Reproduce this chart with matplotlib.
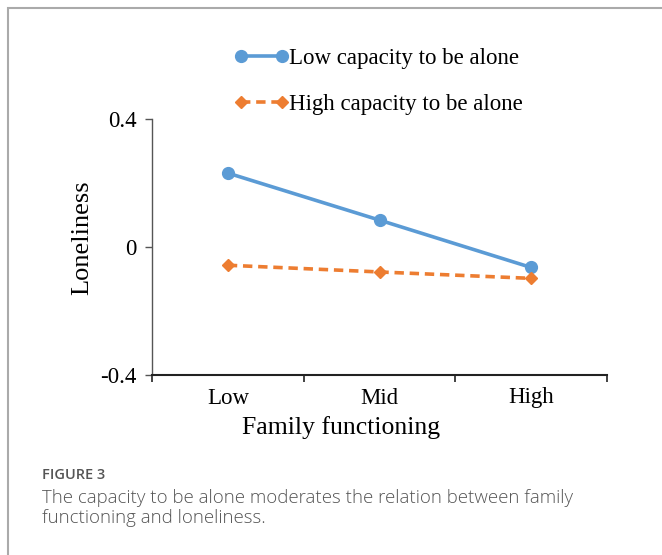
import matplotlib
matplotlib.use("Agg")
import matplotlib.pyplot as plt
from matplotlib.patches import Rectangle
from matplotlib.legend_handler import HandlerLine2D

categories = ["Low", "Mid", "High"]
low_capacity = [0.231, 0.084, -0.064]
high_capacity = [-0.057, -0.078, -0.098]
series_names = ["Low capacity to be alone", "High capacity to be alone"]
y_ticks = [-0.4, 0, 0.4]
y_tick_labels = ["-0.4", "0", "0.4"]

W, H = 662, 555
fig = plt.figure(figsize=(W / 100, H / 100), dpi=100)
serif = "Liberation Serif"

# outer frame
fig.patches.append(Rectangle((8 / W, -0.1), 1.2, (H - 8) / H + 0.1, transform=fig.transFigure,
                             fill=False, edgecolor="#aaaaaa", linewidth=1.5))

ax = fig.add_axes([152 / W, (H - 375) / H, (607 - 152) / W, (375 - 119) / H])
x = list(range(len(categories)))
l1, = ax.plot(x, low_capacity, color="#5B9BD5", lw=2.6, marker="o", markersize=8.5,
              solid_capstyle="round")
l2, = ax.plot(x, high_capacity, color="#ED7D31", lw=2.6, ls=(0, (2.6, 1.6)), marker="D",
              markersize=6.5)
ax.set_xlim(-0.5, 2.5)
ax.set_ylim(-0.4, 0.4)
ax.set_yticks(y_ticks)
ax.set_yticklabels(y_tick_labels)
ax.set_xticks(x)
ax.set_xticklabels(categories)
ax.set_xticks([-0.5, 0.5, 1.5, 2.5], minor=True)
ax.tick_params(axis="x", which="major", length=0, pad=9, labelsize=16.5)
ax.tick_params(axis="x", which="minor", length=5, width=1.2, color="#222222")
ax.tick_params(axis="y", length=5, width=1.0, color="#555555", labelsize=16.5, pad=6)
for lab in ax.get_xticklabels() + ax.get_yticklabels():
    lab.set_fontfamily(serif)
for s in ["top", "right"]:
    ax.spines[s].set_visible(False)
ax.spines["bottom"].set_linewidth(1.5)
ax.spines["bottom"].set_color("#222222")
ax.spines["left"].set_linewidth(1.0)
ax.spines["left"].set_color("#555555")
ax.set_ylabel("Loneliness", fontfamily=serif, fontsize=19, va="center")
ax.yaxis.set_label_coords((82 - 152) / 455, (375 - 238) / 256)
ax.set_xlabel("Family functioning", fontfamily=serif, fontsize=18.5, va="center")
ax.xaxis.set_label_coords((341 - 152) / 455, (375 - 428) / 256)

hm = {l1: HandlerLine2D(marker_pad=0, numpoints=2),
      l2: HandlerLine2D(marker_pad=0, numpoints=2)}
leg = fig.legend([l1, l2], series_names, loc="upper left", handler_map=hm,
                 bbox_to_anchor=(241 / W, 1 - 48 / H), frameon=False, borderpad=0,
                 borderaxespad=0,
                 prop={"family": serif, "size": 16.5}, handlelength=1.8, handletextpad=0.28,
                 labelspacing=1.1)

fig.text(42 / W, 1 - 475 / H, "FIGURE 3", fontfamily="Open Sans", fontsize=10.5,
         color="#555555", fontweight="semibold", va="center")
fig.text(42 / W, 1 - 508 / H,
         "The capacity to be alone moderates the relation between family\nfunctioning and loneliness.",
         fontfamily="Open Sans", fontsize=13.4, color="#555555", va="center",
         linespacing=1.12, fontweight="light")

fig.savefig("out.png", dpi=100)
